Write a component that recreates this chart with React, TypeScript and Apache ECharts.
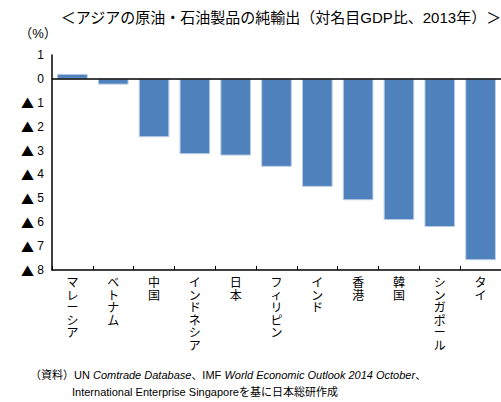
import React, { useEffect, useRef } from "react";
import * as echarts from "echarts";

const categories = ["マレーシア", "ベトナム", "中国", "インドネシア", "日本", "フィリピン", "インド", "香港", "韓国", "シンガポール", "タイ"];
const values = [0.21, -0.24, -2.44, -3.15, -3.21, -3.68, -4.52, -5.08, -5.91, -6.2, -7.59];
const yMin = -8;
const yMax = 1;
const titleText = "＜アジアの原油・石油製品の純輸出（対名目GDP比、2013年）＞";
const unitText = "（%）";

const FONT = "'Liberation Sans', 'Noto Sans CJK JP', sans-serif";
const CJK = "'Noto Sans CJK JP', sans-serif";

export default function App() {
  const ref = useRef<HTMLDivElement>(null);
  useEffect(() => {
    const chart = echarts.init(ref.current!, null, { renderer: "svg" });
    chart.setOption({
      animation: false,
      textStyle: { fontFamily: FONT, color: "#000" },
      grid: { left: 52, top: 55, width: 451, height: 215, containLabel: false },
      xAxis: {
        type: "category",
        data: categories,
        position: "bottom",
        axisLine: { onZero: false, lineStyle: { color: "#000", width: 1.5 } },
        axisTick: { show: true, inside: true, length: 4, lineStyle: { color: "#000" } },
        axisLabel: {
          interval: 0,
          margin: 7,
          fontSize: 12,
          lineHeight: 12.5,
          color: "#000",
          fontFamily: FONT,
          formatter: (v: string) => v.split("").join("\n"),
        },
      },
      yAxis: {
        type: "value",
        min: yMin,
        max: yMax,
        interval: 1,
        splitLine: { show: false },
        axisLine: { show: true, lineStyle: { color: "#000", width: 1.5 } },
        axisTick: { show: false },
        axisLabel: {
          fontSize: 12,
          color: "#000",
          margin: 8,
          fontFamily: FONT,
          formatter: (v: number) => (v < 0 ? "{t|▲} " + Math.abs(v) : String(v)),
          rich: {
            t: { fontFamily: CJK, fontSize: 13, color: "#000" },
          },
        },
      },
      series: [
        {
          type: "bar",
          data: values,
          barCategoryGap: "25%",
          itemStyle: { color: "#4F81BD", borderColor: "#B9CDE5", borderWidth: 1 },
          markLine: {
            silent: true,
            symbol: "none",
            label: { show: false },
            lineStyle: { color: "#000", width: 1.5, type: "solid" },
            data: [{ yAxis: 0 }],
          },
        },
      ],
      graphic: [
        {
          type: "text",
          style: {
            text: titleText,
            x: 281,
            y: 17,
            fontSize: 15,
            fontFamily: FONT,
            fill: "#000",
            align: "center",
            verticalAlign: "middle",
          },
        },
        {
          type: "text",
          style: {
            text: unitText,
            x: 38,
            y: 33,
            fontSize: 13,
            fontFamily: FONT,
            fill: "#000",
            align: "center",
            verticalAlign: "middle",
          },
        },
        {
          type: "text",
          style: {
            x: 30,
            y: 375,
            verticalAlign: "middle",
            text: "{n|（資料）UN }{i|Comtrade Database}{n|、IMF }{i|World Economic Outlook 2014 October}{n|、}",
            rich: {
              n: { fontSize: 11, fontFamily: FONT, fill: "#000" },
              i: { fontSize: 11, fontFamily: FONT, fontStyle: "italic", fill: "#000" },
            },
          },
        },
        {
          type: "text",
          style: {
            x: 72,
            y: 392,
            verticalAlign: "middle",
            text: "International Enterprise Singaporeを基に日本総研作成",
            fontSize: 11,
            fontFamily: FONT,
            fill: "#000",
          },
        },
      ],
    });
    return () => chart.dispose();
  }, []);
  return (
    <div
      ref={ref}
      style={{ position: "absolute", left: 0, top: 0, width: 501, height: 402, background: "#fff" }}
    />
  );
}
